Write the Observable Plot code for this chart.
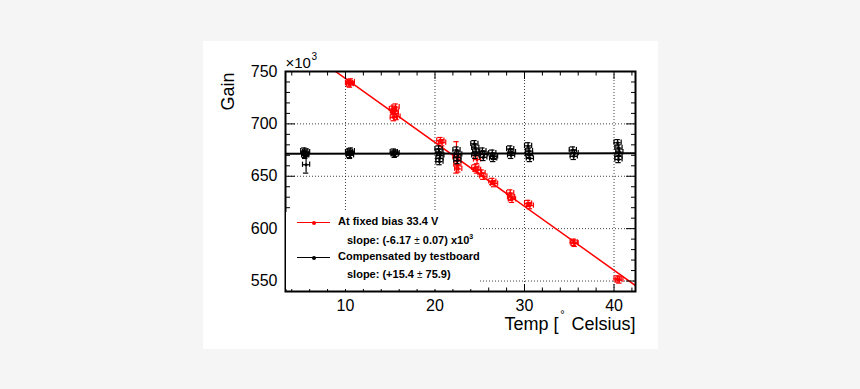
<!DOCTYPE html>
<html>
<head>
<meta charset="utf-8">
<script src="https://cdn.jsdelivr.net/npm/d3@7"></script>
<script src="https://cdn.jsdelivr.net/npm/@observablehq/plot@0.6"></script>
<style>
  html, body { margin: 0; padding: 0; }
  body { width: 860px; height: 389px; background: #f5f5f5; position: relative; overflow: hidden;
         font-family: "Liberation Sans", Arial, Helvetica, sans-serif; }
  #panel { position: absolute; left: 203px; top: 41px; width: 455px; height: 308px; background: #fff; }
  #chart { position: absolute; left: 0; top: 0; }
  #chart svg { background: transparent; overflow: visible; }
  #legend { position: absolute; left: 286px; top: 212px; width: 193px; height: 77px; background: #fff; }
  #legend .t { position: absolute; font-size: 11px; font-weight: bold; line-height: 13px; white-space: nowrap; color: #000; }
  #legend .pm { font-weight: normal; font-size: 10px; }
  #legend sup { font-size: 7px; vertical-align: 5px; line-height: 0; }
  #legend .sw { position: absolute; width: 33px; height: 0; border-top: 1px solid; }
  #legend .sw i { position: absolute; left: 15px; top: -2.5px; width: 4px; height: 4px; border-radius: 2px; }
</style>
</head>
<body>
<div id="panel"></div>
<div id="chart"></div>
<div id="legend">
  <div class="sw" style="left:11px; top:10px; border-color:#ff0000"><i style="background:#ff0000"></i></div>
  <div class="t" style="left:52px; top:3px">At fixed bias 33.4 V</div>
  <div class="t" style="left:61px; top:22px">slope: (-6.17 <span class="pm">±</span> 0.07) x10<sup>3</sup></div>
  <div class="sw" style="left:11px; top:45px; border-color:#000"><i style="background:#000"></i></div>
  <div class="t" style="left:52px; top:38px">Compensated by testboard</div>
  <div class="t" style="left:61px; top:56px">slope: (+15.4 <span class="pm">±</span> 75.9)</div>
</div>
<script>
// ---- data ----
// At fixed bias 33.4 V (red)
const redT  = [10.4, 10.6, 10.5, 15.3, 15.5, 15.7, 15.5, 15.4, 15.6, 20.6, 20.8, 22.4, 22.5, 22.6, 24.7, 24.5, 24.7, 25.2, 25.4, 26.4, 26.6, 28.4, 28.5, 28.6, 30.4, 30.6, 35.5, 35.6, 40.4, 40.6];
const redG  = [739, 740, 738, 714, 710, 707, 712, 706, 716, 684, 682, 668, 661, 657, 666, 658, 656, 653, 650, 645, 643, 634, 630, 628, 624, 622, 587, 586, 552, 551];
const redLo = [3, 3, 3, 3, 3, 3, 3, 3, 3, 3, 3, 15, 3, 3, 4, 3, 3, 3, 3, 3, 3, 3, 3, 3, 3, 3, 3, 3, 3, 3];
const redHi = [3, 3, 3, 3, 3, 3, 3, 3, 3, 3, 3, 15, 3, 3, 4, 3, 3, 3, 3, 3, 3, 3, 3, 3, 3, 3, 3, 3, 3, 3];
// Compensated by testboard (black)
const blackT  = [5.4, 5.5, 5.6, 5.5, 5.6, 10.4, 10.5, 10.6, 10.5, 15.4, 15.5, 15.6, 20.4, 20.5, 20.6, 20.5, 20.5, 22.4, 22.5, 22.6, 22.5, 24.4, 24.5, 24.6, 24.5, 25.3, 25.4, 25.5, 26.4, 26.5, 26.6, 28.4, 28.5, 28.6, 30.4, 30.5, 30.6, 30.5, 35.4, 35.5, 35.6, 40.4, 40.5, 40.6, 40.5, 40.5];
const blackG  = [674, 671, 673, 670, 661, 673, 670, 674, 671, 673, 671, 672, 676, 664, 670, 673, 667, 675, 665, 671, 668, 681, 677, 673, 670, 674, 668, 671, 672, 667, 669, 676, 670, 673, 679, 671, 667, 674, 675, 669, 672, 682, 677, 673, 669, 666];
const blackLo = [3, 3, 3, 3, 8, 3, 3, 3, 3, 3, 3, 3, 3, 3, 3, 3, 3, 3, 3, 3, 3, 3, 3, 3, 3, 3, 3, 3, 3, 3, 3, 3, 3, 3, 3, 3, 3, 3, 3, 3, 3, 3, 3, 3, 3, 3];
const blackHi = blackLo;
// fitted lines: gain = intercept + slope * T
const redFit   = {intercept: 804.3, slope: -6.10};
const blackFit = {intercept: 671.4, slope: 0.0154};
// axes
const xDomain = [3.3, 42.4];
const yDomain = [540, 750];
const xMajor = [10, 20, 30, 40];
const xMinor = [4, 6, 8, 12, 14, 16, 18, 22, 24, 26, 28, 32, 34, 36, 38, 42];
const yMajor = [550, 600, 650, 700, 750];
const yMinor = [540, 560, 570, 580, 590, 610, 620, 630, 640, 660, 670, 680, 690, 710, 720, 730, 740];

// ---- build ----
const errT = 0.4, capT = 0.3, capG = 2.5;
function rows(T, G, lo, hi) { return T.map((t, i) => ({T: t, G: G[i], lo: lo[i], hi: hi[i]})); }
const red = rows(redT, redG, redLo, redHi);
const black = rows(blackT, blackG, blackLo, blackHi);

function errorMarks(data, color) {
  const hCaps = data.flatMap(d => [{x: d.T - errT, G: d.G}, {x: d.T + errT, G: d.G}]);
  const vCaps = data.flatMap(d => [{T: d.T, y: d.G - d.lo}, {T: d.T, y: d.G + d.hi}]);
  const sw = 1.2;
  return [
    Plot.ruleY(data, {y: "G", x1: d => d.T - errT, x2: d => d.T + errT, stroke: color, strokeWidth: sw}),
    Plot.ruleX(data, {x: "T", y1: d => d.G - d.lo, y2: d => d.G + d.hi, stroke: color, strokeWidth: sw}),
    Plot.ruleX(hCaps, {x: "x", y1: d => d.G - capG, y2: d => d.G + capG, stroke: color, strokeWidth: sw}),
    Plot.ruleY(vCaps, {y: "y", x1: d => d.T - capT, x2: d => d.T + capT, stroke: color, strokeWidth: sw}),
    Plot.dot(data, {x: "T", y: "G", r: 1.5, fill: color, stroke: null})
  ];
}
const fitLine = f => xDomain.map(t => ({T: t, G: f.intercept + f.slope * t}));

const fs = 16;
const chart = Plot.plot({
  width: 860, height: 389,
  marginLeft: 285, marginRight: 225, marginTop: 71, marginBottom: 98,
  style: {fontFamily: '"Liberation Sans", Arial, Helvetica, sans-serif', color: "#000", background: "transparent"},
  x: {domain: xDomain},
  y: {domain: yDomain},
  marks: [
    Plot.gridX(xMajor, {stroke: "#000", strokeOpacity: 0.75, strokeDasharray: "1,2"}),
    Plot.gridY(yMajor, {stroke: "#000", strokeOpacity: 0.75, strokeDasharray: "1,2"}),
    ...errorMarks(red, "#ff0000"),
    Plot.line(fitLine(redFit), {x: "T", y: "G", stroke: "#ff0000", strokeWidth: 1.5, clip: true}),
    ...errorMarks(black, "#000"),
    Plot.line(fitLine(blackFit), {x: "T", y: "G", stroke: "#000", strokeWidth: 2, clip: true}),
    // ticks (inward on all four sides)
    Plot.axisX(xMinor, {anchor: "bottom", tickSize: -3.5, tickFormat: () => "", label: null}),
    Plot.axisX(xMajor, {anchor: "bottom", tickSize: -7, tickFormat: () => "", label: null}),
    Plot.axisX(xMinor, {anchor: "top", tickSize: -3.5, tickFormat: () => "", label: null}),
    Plot.axisX(xMajor, {anchor: "top", tickSize: -7, tickFormat: () => "", label: null}),
    Plot.axisY(yMinor, {anchor: "left", tickSize: -5, tickFormat: () => "", label: null}),
    Plot.axisY(yMajor, {anchor: "left", tickSize: -10, tickFormat: () => "", label: null}),
    Plot.axisY(yMinor, {anchor: "right", tickSize: -5, tickFormat: () => "", label: null}),
    Plot.axisY(yMajor, {anchor: "right", tickSize: -10, tickFormat: () => "", label: null}),
    // tick labels
    Plot.axisX(xMajor, {anchor: "bottom", tickSize: 0, tickPadding: 8, fontSize: fs, label: null}),
    Plot.axisY(yMajor, {anchor: "left", tickSize: 0, tickPadding: 8, fontSize: fs, label: null}),
    Plot.frame({stroke: "#000", strokeWidth: 2}),
    // titles
    Plot.text(["Gain"], {frameAnchor: "top-left", rotate: -90, textAnchor: "end", lineAnchor: "middle", dx: -57, dy: 1, fontSize: 18}),
    Plot.text(["×10"], {frameAnchor: "top-left", textAnchor: "start", lineAnchor: "bottom", dx: 0, dy: -4, fontSize: 15}),
    Plot.text(["3"], {frameAnchor: "top-left", textAnchor: "start", lineAnchor: "bottom", dx: 26, dy: -12, fontSize: 10}),
    Plot.text(["Celsius]"], {frameAnchor: "bottom-right", textAnchor: "end", lineAnchor: "top", dx: 0, dy: 26, fontSize: 18}),
    Plot.text(["°"], {frameAnchor: "bottom-right", textAnchor: "middle", lineAnchor: "top", dx: -73, dy: 19, fontSize: 11}),
    Plot.text(["Temp ["], {frameAnchor: "bottom-right", textAnchor: "end", lineAnchor: "top", dx: -77, dy: 26, fontSize: 18})
  ]
});
document.getElementById("chart").appendChild(chart);
</script>
</body>
</html>
